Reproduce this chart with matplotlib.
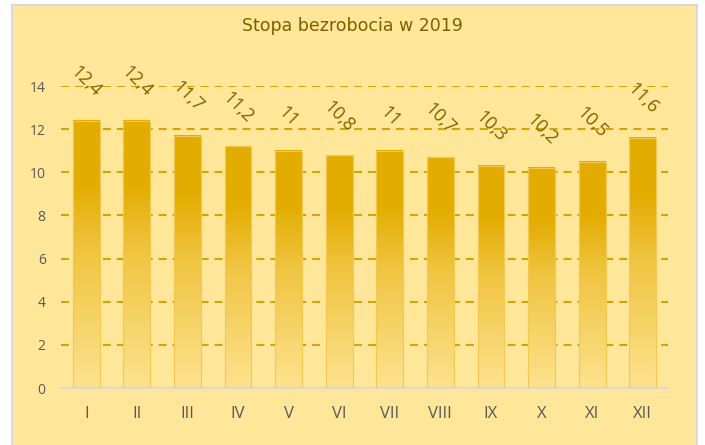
import matplotlib
matplotlib.use('Agg')
import matplotlib.pyplot as plt
import numpy as np
from matplotlib.colors import LinearSegmentedColormap
from matplotlib.patches import Rectangle

months = ['I', 'II', 'III', 'IV', 'V', 'VI', 'VII', 'VIII', 'IX', 'X', 'XI', 'XII']
rate = [12.4, 12.4, 11.7, 11.2, 11.0, 10.8, 11.0, 10.7, 10.3, 10.2, 10.5, 11.6]
yticks = [0, 2, 4, 6, 8, 10, 12, 14]

bg = '#FFE699'
dark = '#7F6000'
grey = '#595959'
grad = LinearSegmentedColormap.from_list(
    'bar', [(0, '#FDE28E'), (0.5, '#F0C542'), (0.77, '#E3AC00'), (1, '#E3AC00')])

fig = plt.figure(figsize=(7.05, 4.45), dpi=100, facecolor='white')
fig.patches.append(Rectangle((12 / 705, -0.01), 685 / 705, 1 - 5 / 445 + 0.01,
                             transform=fig.transFigure, facecolor=bg,
                             edgecolor='#D9D9D9', lw=1.5, zorder=-10))

ax = fig.add_axes([61 / 705, 1 - 388 / 445, 607 / 705, 302 / 445])
ax.set_facecolor('none')

x = np.arange(len(months))
w = 0.53
ramp = np.linspace(0, 1, 256).reshape(-1, 1)
for xi, v in zip(x, rate):
    ax.imshow(ramp, cmap=grad, origin='lower', aspect='auto',
              extent=[xi - w / 2, xi + w / 2, 0, v], zorder=2)
    ax.add_patch(Rectangle((xi - w / 2, 0), w, v, fill=False,
                           edgecolor='#F2C94E', lw=0.8, zorder=3))
    ax.annotate(('%g' % v).replace('.', ','), (xi, v), xytext=(0, 20),
                textcoords='offset pixels', ha='center', va='bottom',
                rotation=-45, fontsize=13, color=dark, family='Open Sans',
                annotation_clip=False)

for t in yticks[1:]:
    ax.axhline(t, color='#D4A400', lw=1.5, ls=(0, (3.8, 2.9)), zorder=1)

ax.set_xlim(-0.5, len(months) - 0.5)
ax.set_ylim(0, 14)
ax.set_yticks(yticks)
ax.set_xticks(x)
ax.set_xticklabels(months, family='Open Sans')
ax.set_yticklabels([str(t) for t in yticks], family='Open Sans')
for s in ['top', 'right', 'left']:
    ax.spines[s].set_visible(False)
ax.spines['bottom'].set_color('#D9D9D9')
ax.spines['bottom'].set_linewidth(1.5)
ax.tick_params(axis='both', length=0, colors=grey)
ax.tick_params(axis='y', pad=11, labelsize=10)
ax.tick_params(axis='x', pad=13, labelsize=12)

fig.text(0.5, 1 - 26 / 445, 'Stopa bezrobocia w 2019', ha='center', va='center',
         fontsize=12.5, color=dark, family='DejaVu Sans')

fig.savefig('out.png', dpi=100, facecolor='white')
